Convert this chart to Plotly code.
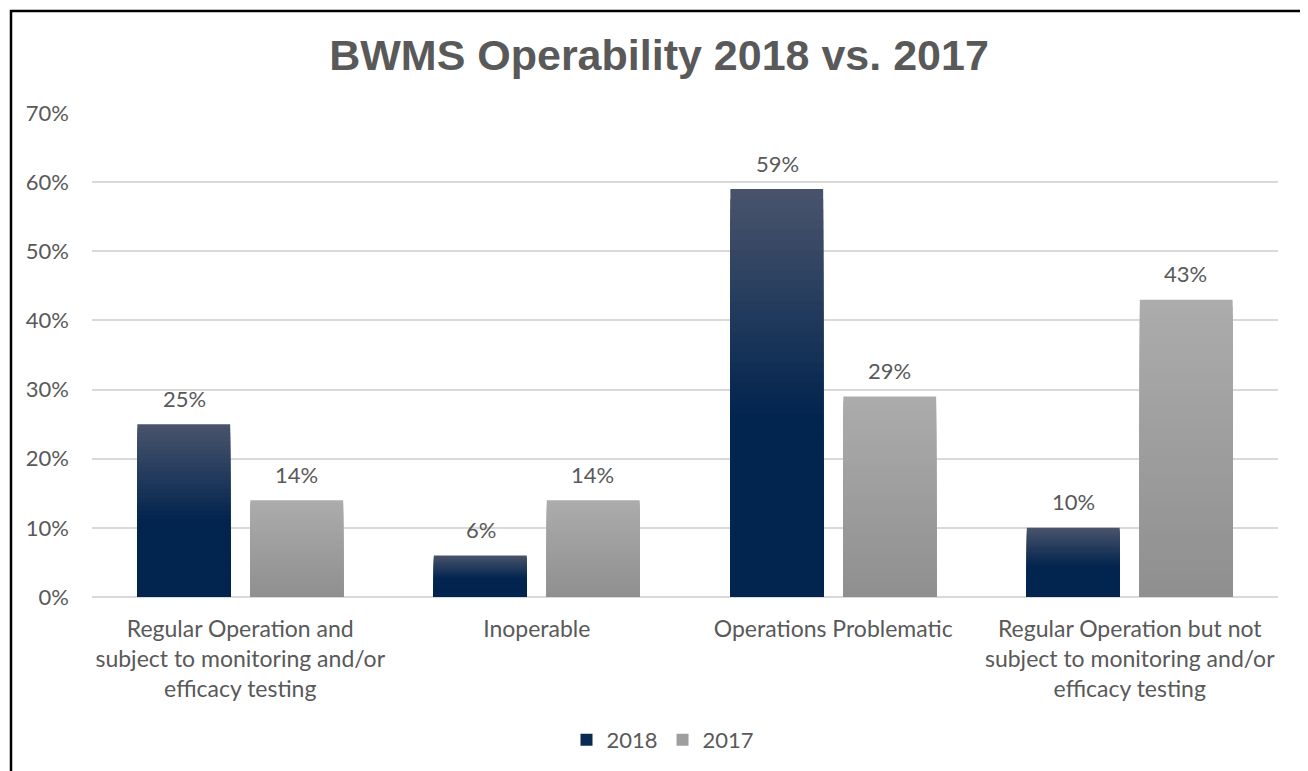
import plotly.graph_objects as go

categories = [
    "Regular Operation and<br>subject to monitoring and/or<br>efficacy testing",
    "Inoperable",
    "Operations Problematic",
    "Regular Operation but not<br>subject to monitoring and/or<br>efficacy testing",
]
values_2018 = [0.25, 0.06, 0.59, 0.10]
values_2017 = [0.14, 0.14, 0.29, 0.43]
tick_vals = [0, 0.1, 0.2, 0.3, 0.4, 0.5, 0.6, 0.7]
tick_text = ["0%", "10%", "20%", "30%", "40%", "50%", "60%", "70%"]

TXT = "#595959"
FONT = "Lato"
# page body has an 8px margin; shift everything so screen positions match
D = 8
W, H = 1308 - D, 771 - D
ML, MR, MT, MB = 92 - D, 30, 113 - D, 174
PW = W - ML - MR
PH = H - MT - MB

BAR_W = 0.313
OFF_2018 = -0.347
OFF_2017 = 0.034
N = 40


def hex2rgb(h):
    h = h.lstrip("#")
    return tuple(int(h[i:i + 2], 16) for i in (0, 2, 4))


def mix(c1, c2, t):
    a, b = hex2rgb(c1), hex2rgb(c2)
    return "rgb(%d,%d,%d)" % tuple(round(a[i] + (b[i] - a[i]) * t) for i in range(3))


def color_2018(f):
    if f < 0.45:
        return mix("#02254f", "#02254f", 0)
    return mix("#02254f", "#4a546c", (f - 0.45) / 0.55)


def color_2017(f):
    return mix("#8f8f8f", "#acacac", f)


fig = go.Figure()


def add_series(name, vals, offset, cfun, legend_color):
    for k in range(N):
        frac_top = (N - k) / N
        f = (N - k - 0.5) / N
        fig.add_trace(go.Bar(
            x=categories,
            y=[v * frac_top for v in vals],
            width=BAR_W,
            offset=offset,
            marker=dict(color=cfun(f), line=dict(width=0)),
            showlegend=False,
            hoverinfo="skip",
            name=name,
        ))
    fig.add_trace(go.Bar(
        x=categories,
        y=[0 for _ in vals],
        width=BAR_W,
        offset=offset,
        marker=dict(color=legend_color, line=dict(width=0)),
        name=name,
        showlegend=True,
        hoverinfo="skip",
    ))


add_series("2018", values_2018, OFF_2018, color_2018, "#0b2a52")
add_series("2017", values_2017, OFF_2017, color_2017, "#9e9e9e")

annotations = []
for vals, xs in ((values_2018, -56), (values_2017, 56)):
    for cat, v in zip(categories, vals):
        annotations.append(dict(x=cat, y=v, xref="x", yref="y", text=f"{round(v*100)}%",
                                showarrow=False, yanchor="middle", yshift=26, xshift=xs,
                                font=dict(family=FONT, size=22, color=TXT)))

fig.update_layout(
    width=W, height=H,
    margin=dict(l=ML, r=MR, t=MT, b=MB, autoexpand=False),
    barmode="overlay",
    paper_bgcolor="white",
    plot_bgcolor="white",
    font=dict(family=FONT, size=22, color=TXT),
    title=dict(
        text="<b>BWMS Operability 2018 vs. 2017</b>",
        x=(659 - D) / W, xref="container", xanchor="center",
        y=1 - (55 - D) / H, yref="container", yanchor="middle",
        font=dict(family="Liberation Sans", size=43, color=TXT),
    ),
    xaxis=dict(
        showgrid=False, showline=False, zeroline=False, ticks="",
        tickfont=dict(family=FONT, size=23, color=TXT),
        ticklabelstandoff=16,
    ),
    yaxis=dict(
        range=[0, 0.70],
        tickvals=tick_vals, ticktext=tick_text,
        showgrid=True, gridcolor="#d9d9d9", gridwidth=1.5,
        zeroline=True, zerolinecolor="#d9d9d9", zerolinewidth=1.5,
        showline=False, ticks="",
        tickfont=dict(family=FONT, size=22, color=TXT),
        ticklabelstandoff=22,
    ),
    legend=dict(
        orientation="h", x=(663 - D - ML) / PW, xanchor="center",
        y=(MT + PH - (740 - D)) / PH, yanchor="middle",
        font=dict(family=FONT, size=22, color=TXT),
        bgcolor="rgba(0,0,0,0)",
        itemwidth=30,
    ),
    annotations=annotations,
    shapes=[dict(
        type="rect", xref="paper", yref="paper",
        x0=(11 - D - ML) / PW, x1=(1306 - D - ML) / PW,
        y0=(MT + PH - (780 - D)) / PH, y1=(MT + PH - (11 - D)) / PH,
        line=dict(color="black", width=2.5), fillcolor="rgba(0,0,0,0)",
        layer="above",
    )],
)

fig.write_html("out.html")
